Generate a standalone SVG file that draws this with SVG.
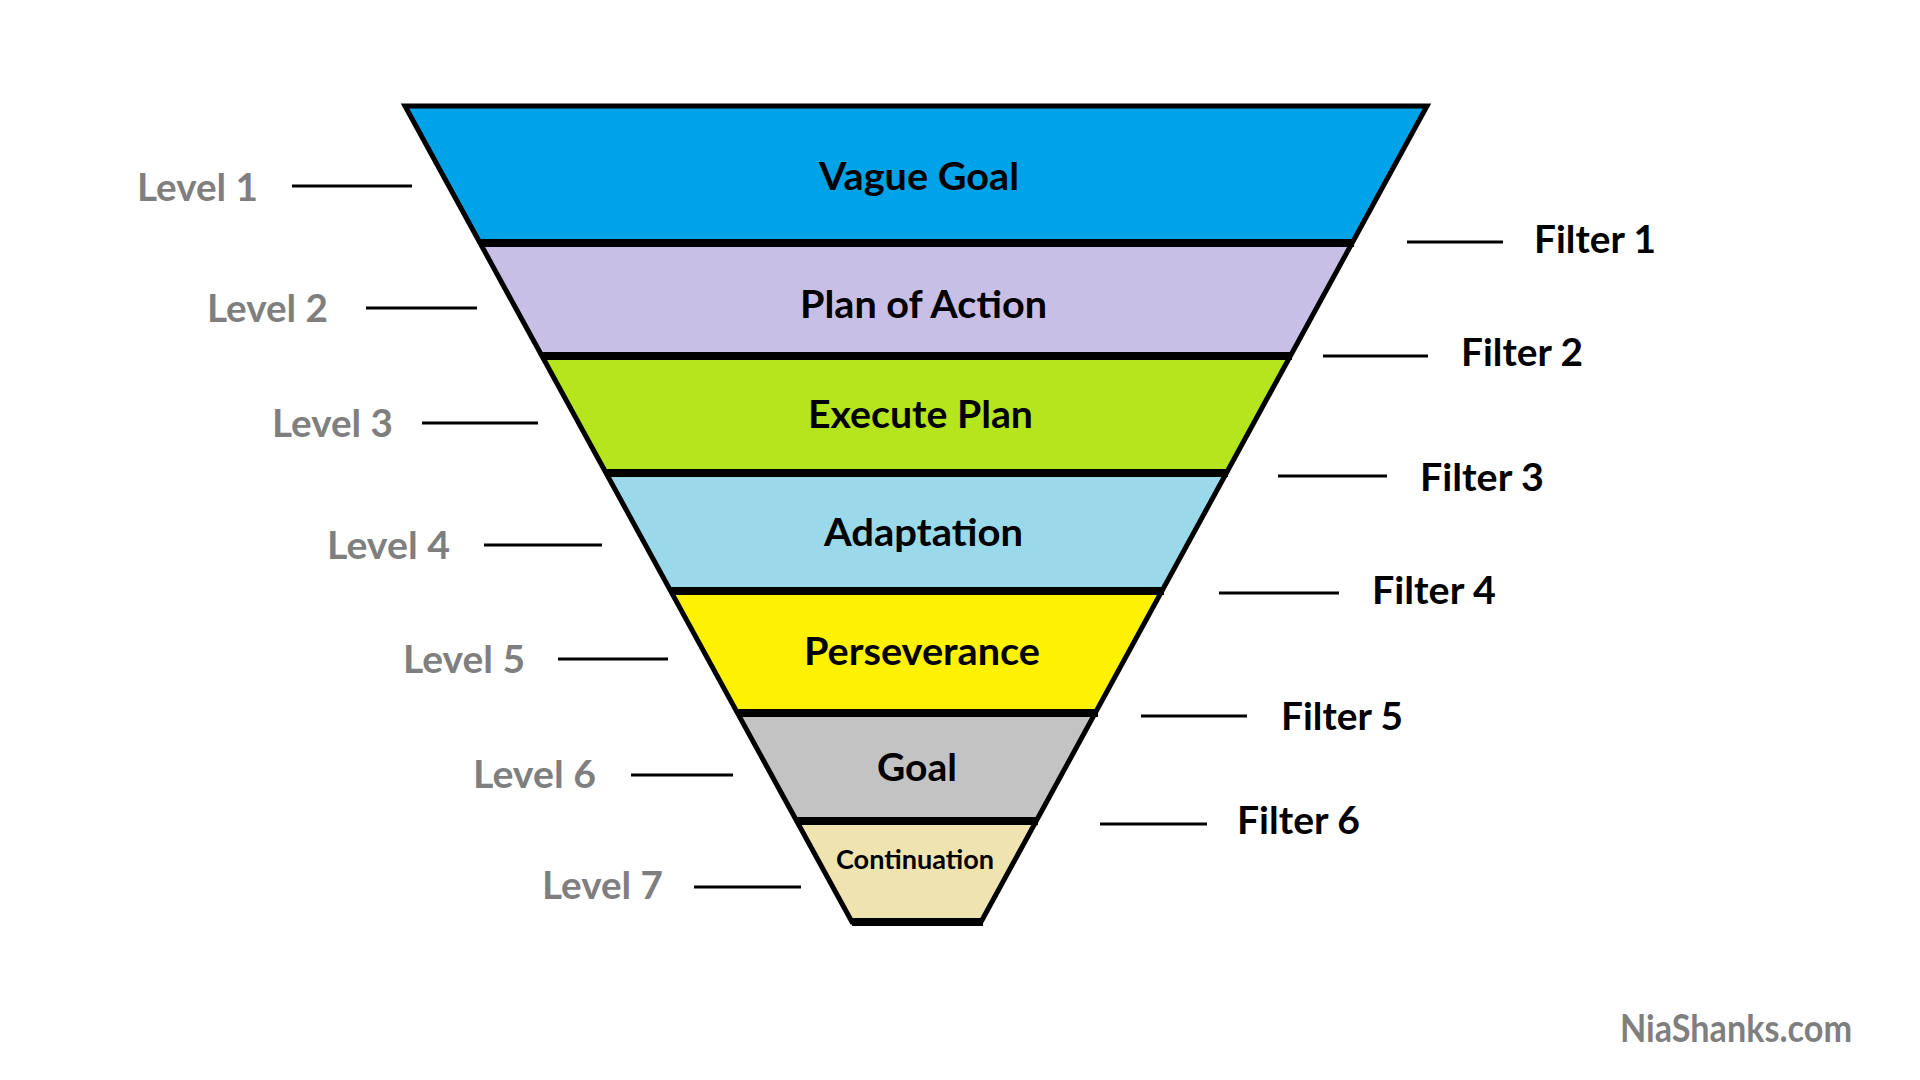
<svg xmlns="http://www.w3.org/2000/svg" width="1920" height="1080" viewBox="0 0 1920 1080">
<style>
.t{font-family:Lato,"Open Sans","Liberation Sans",sans-serif;font-weight:700;font-size:38px;fill:#000}
.lv{fill:#7f7f7f}
.sm{font-size:26px}
.band{stroke:none}
.div{stroke:#000;stroke-width:8;fill:none}
.lead{stroke:#000;stroke-width:3;fill:none}
.outline{fill:none;stroke:#000;stroke-width:5;stroke-linejoin:miter}
</style>
<rect width="1920" height="1080" fill="#fff"/>
<g id="band1"><polygon class="band" fill="#00a2e8" points="405,106 1427,106 1352.1,243 480,243"/><text class="t" x="819" y="190" textLength="200" lengthAdjust="spacingAndGlyphs">Vague Goal</text></g>
<g id="band2"><polygon class="band" fill="#c8bfe7" points="480,243 1352.1,243 1290.4,356 541.9,356"/><text class="t" x="800" y="318" textLength="247" lengthAdjust="spacingAndGlyphs">Plan of Action</text></g>
<g id="band3"><polygon class="band" fill="#b5e61d" points="541.9,356 1290.4,356 1226.4,473 606,473"/><text class="t" x="808" y="428" textLength="225" lengthAdjust="spacingAndGlyphs">Execute Plan</text></g>
<g id="band4"><polygon class="band" fill="#99d9ea" points="606,473 1226.4,473 1161.9,591 670.7,591"/><text class="t" x="824" y="546" textLength="199" lengthAdjust="spacingAndGlyphs">Adaptation</text></g>
<g id="band5"><polygon class="band" fill="#fff200" points="670.7,591 1161.9,591 1095.2,713 737.5,713"/><text class="t" x="804" y="665" textLength="236" lengthAdjust="spacingAndGlyphs">Perseverance</text></g>
<g id="band6"><polygon class="band" fill="#c3c3c3" points="737.5,713 1095.2,713 1036.2,821 796.7,821"/><text class="t" x="877" y="781" textLength="80" lengthAdjust="spacingAndGlyphs">Goal</text></g>
<g id="band7"><polygon class="band" fill="#efe4b0" points="796.7,821 1036.2,821 981,922 852,922"/><text class="t sm" x="836" y="869" textLength="158" lengthAdjust="spacingAndGlyphs">Continuation</text></g>
<g id="funnel-lines">
<line class="div" x1="479" y1="243" x2="1354" y2="243"/>
<line class="div" x1="541" y1="356" x2="1292" y2="356"/>
<line class="div" x1="605" y1="473" x2="1228" y2="473"/>
<line class="div" x1="670" y1="591" x2="1164" y2="591"/>
<line class="div" x1="737" y1="713" x2="1098" y2="713"/>
<line class="div" x1="796" y1="821" x2="1038" y2="821"/>
<line class="div" x1="852" y1="922" x2="983" y2="922"/>
<polygon class="outline" points="405,106 1427,106 981,922 852,922"/>
</g>
<g id="connectors">
<line class="lead" x1="292" y1="186" x2="412" y2="186"/>
<line class="lead" x1="366" y1="308" x2="477" y2="308"/>
<line class="lead" x1="422" y1="423" x2="538" y2="423"/>
<line class="lead" x1="484" y1="545" x2="602" y2="545"/>
<line class="lead" x1="558" y1="659" x2="668" y2="659"/>
<line class="lead" x1="631" y1="775" x2="733" y2="775"/>
<line class="lead" x1="694" y1="887" x2="801" y2="887"/>
<line class="lead" x1="1407" y1="242" x2="1503" y2="242"/>
<line class="lead" x1="1323" y1="356" x2="1428" y2="356"/>
<line class="lead" x1="1278" y1="476" x2="1387" y2="476"/>
<line class="lead" x1="1219" y1="593" x2="1339" y2="593"/>
<line class="lead" x1="1141" y1="716" x2="1247" y2="716"/>
<line class="lead" x1="1100" y1="824" x2="1207" y2="824"/>
</g>
<g id="levels">
<text id="level1" class="t lv" x="137" y="201" textLength="121" lengthAdjust="spacingAndGlyphs">Level 1</text>
<text id="level2" class="t lv" x="207" y="322" textLength="121" lengthAdjust="spacingAndGlyphs">Level 2</text>
<text id="level3" class="t lv" x="272" y="437" textLength="121" lengthAdjust="spacingAndGlyphs">Level 3</text>
<text id="level4" class="t lv" x="327" y="559" textLength="123" lengthAdjust="spacingAndGlyphs">Level 4</text>
<text id="level5" class="t lv" x="403" y="673" textLength="122" lengthAdjust="spacingAndGlyphs">Level 5</text>
<text id="level6" class="t lv" x="473" y="788" textLength="123" lengthAdjust="spacingAndGlyphs">Level 6</text>
<text id="level7" class="t lv" x="542" y="899" textLength="121" lengthAdjust="spacingAndGlyphs">Level 7</text>
</g>
<g id="filters">
<text id="filter1" class="t" x="1534" y="253" textLength="122" lengthAdjust="spacingAndGlyphs">Filter 1</text>
<text id="filter2" class="t" x="1461" y="366" textLength="122" lengthAdjust="spacingAndGlyphs">Filter 2</text>
<text id="filter3" class="t" x="1420" y="491" textLength="124" lengthAdjust="spacingAndGlyphs">Filter 3</text>
<text id="filter4" class="t" x="1372" y="604" textLength="124" lengthAdjust="spacingAndGlyphs">Filter 4</text>
<text id="filter5" class="t" x="1281" y="730" textLength="122" lengthAdjust="spacingAndGlyphs">Filter 5</text>
<text id="filter6" class="t" x="1237" y="834" textLength="123" lengthAdjust="spacingAndGlyphs">Filter 6</text>
</g>
<text id="credit" class="t lv" x="1620" y="1042" font-size="38" textLength="232" lengthAdjust="spacingAndGlyphs">NiaShanks.com</text>
</svg>
